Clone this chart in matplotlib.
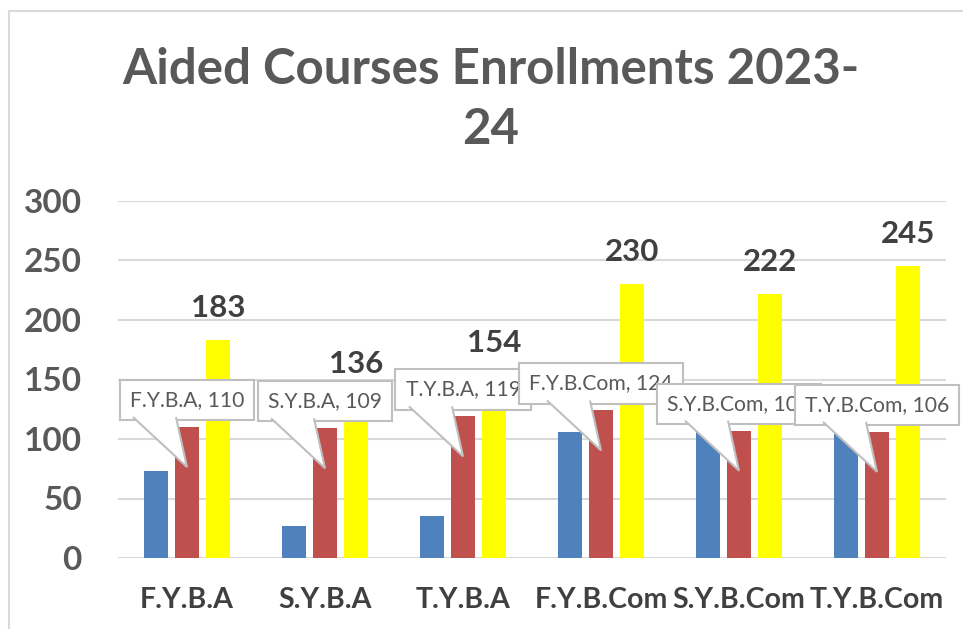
import matplotlib
matplotlib.use("Agg")
import matplotlib.pyplot as plt
import matplotlib.transforms as mtransforms
from matplotlib.patches import Polygon, Rectangle
import numpy as np

categories = ["F.Y.B.A", "S.Y.B.A", "T.Y.B.A", "F.Y.B.Com", "S.Y.B.Com", "T.Y.B.Com"]
series_blue = [73, 27, 35, 106, 115, 112]
series_red = [110, 109, 119, 124, 107, 106]
series_yellow = [183, 136, 154, 230, 222, 245]
yticks = [0, 50, 100, 150, 200, 250, 300]

BLUE = "#4F81BD"
RED = "#C0504D"
YELLOW = "#FFFF00"
TXT = "#595959"
LBL = "#404040"
GRID = "#D9D9D9"
FONT = "Lato"

W, H = 963, 629
fig = plt.figure(figsize=(W / 100, H / 100), dpi=100)
ax = fig.add_axes([118 / W, 1 - 558 / H, 828 / W, 357 / H])

x = np.arange(len(categories))
bw = 0.18
step = 0.225
ax.bar(x - step, series_blue, bw, color=BLUE, zorder=2)
ax.bar(x, series_red, bw, color=RED, zorder=2)
ax.bar(x + step, series_yellow, bw, color=YELLOW, zorder=2)

ax.set_xlim(-0.5, len(categories) - 0.5)
ax.set_ylim(0, 300)
ax.set_yticks(yticks)
ax.set_yticklabels([str(v) for v in yticks], fontsize=24, fontweight="bold",
                   color=TXT, fontfamily=FONT)
ax.set_xticks(x)
ax.set_xticklabels(categories, fontsize=20.5, fontweight="bold", color=LBL,
                   fontfamily=FONT)
ax.tick_params(axis="both", length=0)
ax.tick_params(axis="y", pad=26)
ax.tick_params(axis="x", pad=21)
for s in ax.spines.values():
    s.set_visible(False)
ax.grid(axis="y", color=GRID, linewidth=1.5, zorder=0)
ax.set_axisbelow(True)

# yellow value labels
for xi, v in zip(x, series_yellow):
    ax.annotate(str(v), xy=(xi + step, v), xytext=(0, 13), textcoords="offset points",
                ha="center", va="bottom", fontsize=22.5, fontweight="bold",
                color=LBL, fontfamily=FONT, zorder=8)

# callouts for red series
for xi, v, c in zip(x, series_red, categories):
    ax.annotate(f"{c}, {v}", xy=(xi, v), xytext=(0, 27 * 0.72), textcoords="offset points",
                ha="center", va="center", fontsize=15.2, color=TXT, fontfamily=FONT,
                bbox=dict(boxstyle="square,pad=0.48", facecolor="white",
                          edgecolor="#BFBFBF", linewidth=1.5),
                zorder=6, annotation_clip=False)
    tr = fig.dpi_scale_trans + mtransforms.ScaledTranslation(xi, v, ax.transData)
    verts = np.array([[-54, 10], [0, -40], [-11, 10]]) / 100.0
    poly = Polygon(verts, closed=False, facecolor="white", edgecolor="#BFBFBF",
                   linewidth=1.5, transform=tr, zorder=7, clip_on=False)
    ax.add_patch(poly)

# title
fig.text(491 / W, 1 - 70 / H, "Aided Courses Enrollments 2023-", ha="center", va="center",
         fontsize=35.5, fontweight="bold", color=TXT, fontfamily=FONT)
fig.text(491 / W, 1 - 129 / H, "24", ha="center", va="center",
         fontsize=35.5, fontweight="bold", color=TXT, fontfamily=FONT)

# chart area border
fig.patches.append(Rectangle((9 / W, -0.1), 1.2, 1 - 11 / H + 0.1, transform=fig.transFigure,
                             fill=False, edgecolor="#D9D9D9", linewidth=1.5))

fig.savefig("out.png", dpi=100)
